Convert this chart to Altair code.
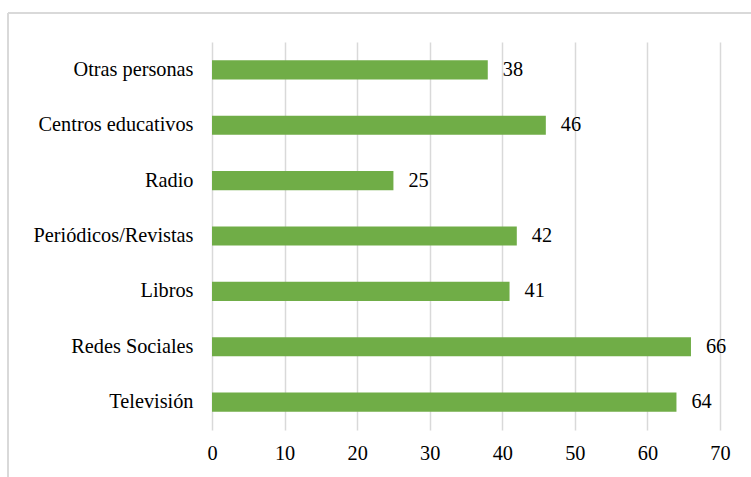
import altair as alt
import pandas as pd

categories = ["Otras personas", "Centros educativos", "Radio", "Periódicos/Revistas",
              "Libros", "Redes Sociales", "Televisión"]
values = [38, 46, 25, 42, 41, 66, 64]
x_ticks = [0, 10, 20, 30, 40, 50, 60, 70]

df = pd.DataFrame({"cat": categories, "val": values})
FONT = "Liberation Serif"
FS = 20.3

y_enc = alt.Y("cat:N", sort=categories, title=None,
              scale=alt.Scale(paddingInner=0.655, paddingOuter=0.33),
              axis=alt.Axis(domain=False, ticks=False, labelPadding=19,
                            labelFont=FONT, labelFontSize=FS, labelColor="#000000",
                            grid=False))
x_enc = alt.X("val:Q", title=None,
              scale=alt.Scale(domain=[0, 70], nice=False),
              axis=alt.Axis(values=x_ticks, domain=False, ticks=False, labelPadding=13,
                            labelFont=FONT, labelFontSize=FS, labelColor="#000000",
                            labelFlush=False,
                            grid=True, gridColor="#d9d9d9", gridWidth=1.5))

base = alt.Chart(df)
bars = base.mark_bar(color="#70AD47").encode(x=x_enc, y=y_enc)
labels = base.mark_text(align="left", baseline="middle", dx=15, font=FONT,
                        fontSize=FS, color="#000000").encode(
    x="val:Q", y=alt.Y("cat:N", sort=categories), text="val:Q")

border_top = alt.Chart(df).mark_rule(color="#d9d9d9", strokeWidth=1.5, clip=False).encode(
    x=alt.value(-204), x2=alt.value(600), y=alt.value(-29))
border_left = alt.Chart(df).mark_rule(color="#d9d9d9", strokeWidth=1.5, clip=False).encode(
    x=alt.value(-204), y=alt.value(-29), y2=alt.value(500))

chart = alt.layer(bars, labels, border_top, border_left).properties(
    width=508, height=388,
    autosize=alt.AutoSizeParams(type="none"),
    padding={"left": 212, "top": 42, "right": 31, "bottom": 47},
    background="#ffffff",
).configure_view(stroke=None)

chart.save("out.html", embed_options={"renderer": "svg", "actions": False})
